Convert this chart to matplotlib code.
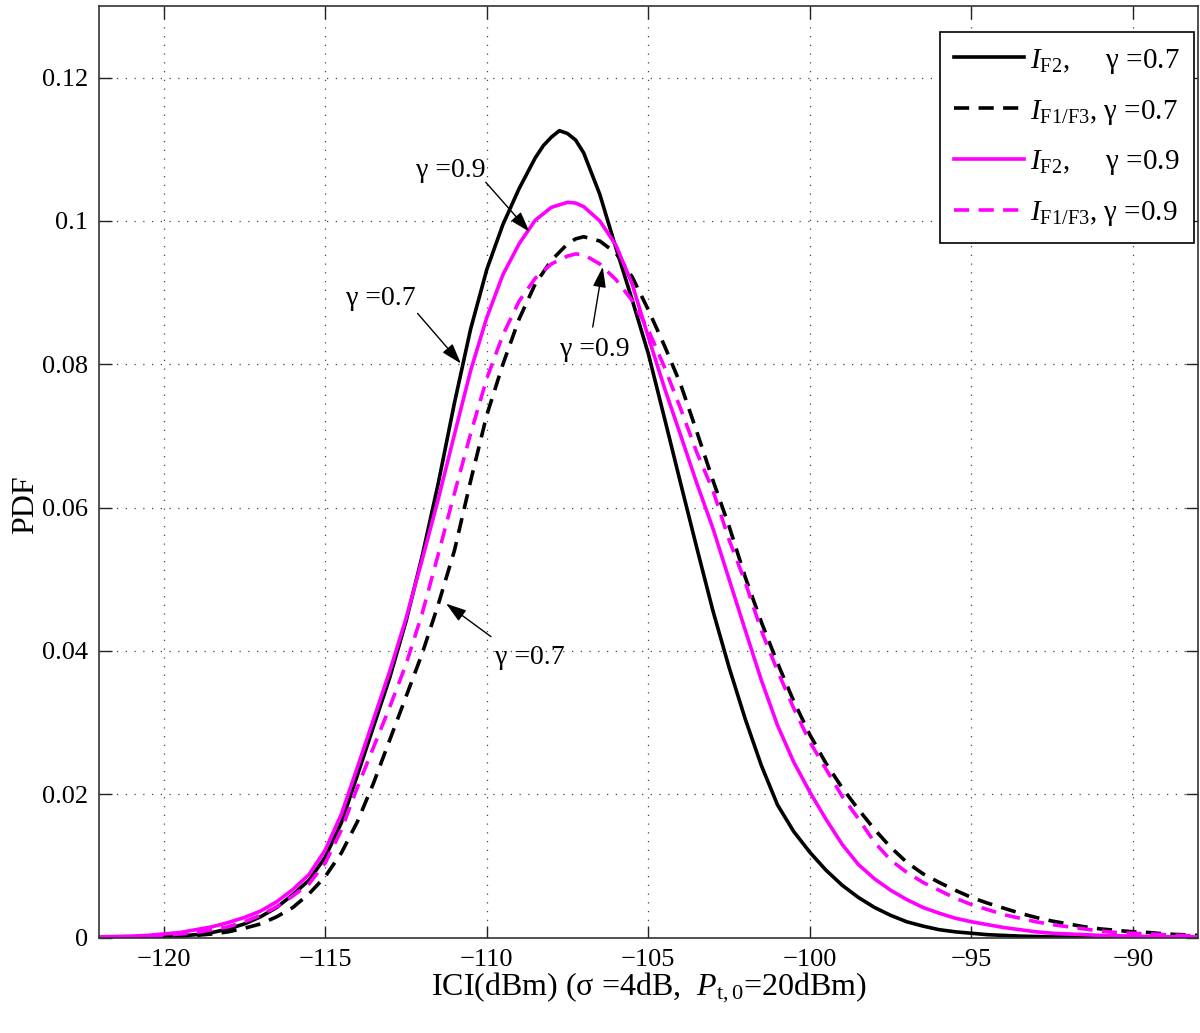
import matplotlib
matplotlib.use('Agg')
import matplotlib.pyplot as plt
import numpy as np

# ---------------- data (0.5 dB sampling) ----------------
x_db = np.arange(-122.0, -87.75, 0.5)   # -122 ... -88

y_f2_07 = [0, 0.00002, 0.00004, 0.00007, 0.00012, 0.00022, 0.0004, 0.0007, 0.0012, 0.0019,
           0.0029, 0.0042, 0.0060, 0.0080, 0.0112, 0.0160, 0.0227, 0.0295, 0.0363, 0.0441,
           0.0532, 0.0634, 0.0746, 0.0849, 0.0932, 0.0995, 0.1045, 0.1088, 0.1117, 0.1122,
           0.1095, 0.1037, 0.0962, 0.0890, 0.0815, 0.0725, 0.0634, 0.0544, 0.0456, 0.0377,
           0.0305, 0.0240, 0.0185, 0.0148, 0.0119, 0.0094, 0.0073, 0.0056, 0.0042, 0.0031,
           0.0022, 0.0016, 0.0011, 0.0008, 0.0006, 0.0004, 0.0003, 0.0002, 0.00015, 0.0001,
           0.00007, 0.00005, 0.00003, 0.00002, 0.00001, 0.00001, 0, 0, 0]

y_f13_07 = [0, 0.00002, 0.00004, 0.00007, 0.0001, 0.0002, 0.0003, 0.0005, 0.0008, 0.0013,
            0.0019, 0.0029, 0.0042, 0.0061, 0.0085, 0.0118, 0.0162, 0.0216, 0.0276, 0.0336,
            0.0396, 0.0465, 0.0540, 0.0637, 0.0729, 0.0800, 0.0863, 0.0912, 0.0945, 0.0968,
            0.0978, 0.0972, 0.0955, 0.0922, 0.0876, 0.0826, 0.0772, 0.0706, 0.0638, 0.0574,
            0.0503, 0.0440, 0.0383, 0.0330, 0.0283, 0.0243, 0.0209, 0.0179, 0.0151, 0.0126,
            0.0105, 0.0089, 0.0077, 0.0066, 0.0056, 0.0048, 0.0041, 0.0034, 0.0028, 0.0023,
            0.0019, 0.0015, 0.0012, 0.0010, 0.0008, 0.0007, 0.0005, 0.0004, 0.0003]

y_f2_09 = [0.0001, 0.00015, 0.0002, 0.0003, 0.0005, 0.0007, 0.0011, 0.0015, 0.0021, 0.0028,
           0.0037, 0.0050, 0.0067, 0.0088, 0.0122, 0.0172, 0.0238, 0.0305, 0.0372, 0.0445,
           0.0527, 0.0612, 0.0702, 0.0791, 0.0865, 0.0925, 0.0968, 0.1001, 0.1019, 0.1026,
           0.1020, 0.1000, 0.0966, 0.0912, 0.0838, 0.0767, 0.0701, 0.0634, 0.0571, 0.0500,
           0.0429, 0.0359, 0.0296, 0.0245, 0.0203, 0.0165, 0.0130, 0.0102, 0.0082, 0.0066,
           0.0053, 0.0042, 0.0034, 0.0027, 0.0022, 0.0018, 0.0014, 0.0011, 0.0008, 0.0006,
           0.0005, 0.0004, 0.0003, 0.00025, 0.0002, 0.00015, 0.0001, 0.0001, 0.0001]

y_f13_09 = [0.00003, 0.00006, 0.0001, 0.0002, 0.0003, 0.0005, 0.0007, 0.0011, 0.0015, 0.0022,
            0.0031, 0.0043, 0.0058, 0.0075, 0.0104, 0.0150, 0.0210, 0.0266, 0.0322, 0.0381,
            0.0452, 0.0535, 0.0620, 0.0703, 0.0780, 0.0841, 0.0888, 0.0920, 0.0940, 0.0951,
            0.0953, 0.0940, 0.0918, 0.0889, 0.0848, 0.0796, 0.0738, 0.0677, 0.0624, 0.0555,
            0.0496, 0.0428, 0.0372, 0.0320, 0.0273, 0.0235, 0.0197, 0.0166, 0.0133, 0.0108,
            0.0091, 0.0077, 0.0066, 0.0055, 0.0046, 0.0039, 0.0032, 0.0027, 0.0022, 0.0018,
            0.0015, 0.0012, 0.0009, 0.0007, 0.0006, 0.0005, 0.0004, 0.0003, 0.0002]

# extra readings around the peaks (x, y)
peak_f2_07 = ([-108.25, -107.75, -107.25], [0.1105, 0.1126, 0.1113])
peak_f13_07 = ([-107.25], [0.0975])
peak_f2_09 = ([-107.25], [0.1025])
peak_f13_09 = ([-107.25], [0.0954])

labels = [r'$I_{\mathrm{F2}}$,     γ =0.7',
          r'$I_{\mathrm{F1/F3}}$, γ =0.7',
          r'$I_{\mathrm{F2}}$,     γ =0.9',
          r'$I_{\mathrm{F1/F3}}$, γ =0.9']

x_ticks = [-120, -115, -110, -105, -100, -95, -90]
y_ticks = [0, 0.02, 0.04, 0.06, 0.08, 0.1, 0.12]
y_ticklabels = ['0', '0.02', '0.04', '0.06', '0.08', '0.1', '0.12']


def merged(y_grid, extra):
    xs = np.concatenate([x_db, np.asarray(extra[0], float)])
    ys = np.concatenate([np.asarray(y_grid, float), np.asarray(extra[1], float)])
    order = np.argsort(xs)
    return xs[order], ys[order]


# ---------------- style ----------------
plt.rcParams['font.family'] = ['Liberation Serif', 'DejaVu Serif']
plt.rcParams['mathtext.fontset'] = 'custom'
plt.rcParams['mathtext.rm'] = 'Liberation Serif'
plt.rcParams['mathtext.it'] = 'Liberation Serif:italic'
plt.rcParams['axes.unicode_minus'] = True

MAG = '#FF00FF'
LW = 2.6
DASH = (0, (4.2, 2.6))

fig = plt.figure(figsize=(12, 10.33), dpi=100)
ax = fig.add_axes([0.0825, 0.0924, 0.9155, 0.9018])

kw = dict(lw=LW, solid_joinstyle='round', dash_joinstyle='round')
ax.plot(*merged(y_f2_07, peak_f2_07), color='black', label=labels[0], **kw)
ax.plot(*merged(y_f13_07, peak_f13_07), color='black', linestyle=DASH, label=labels[1], **kw)
ax.plot(*merged(y_f2_09, peak_f2_09), color=MAG, label=labels[2], **kw)
ax.plot(*merged(y_f13_09, peak_f13_09), color=MAG, linestyle=DASH, label=labels[3], **kw)

ax.set_xlim(-122, -88)
ax.set_ylim(0, 0.13)
ax.set_xticks(x_ticks)
ax.set_yticks(y_ticks)
ax.set_yticklabels(y_ticklabels)
ax.tick_params(direction='in', length=9, width=1.0, top=True, right=True,
               labelsize=19, pad=8, colors='#222222', labelcolor='black')
ax.grid(True, linestyle=(0, (1, 6)), color='#444444', lw=0.9)
for s in ax.spines.values():
    s.set_color('#333333')
    s.set_linewidth(1.2)

ax.set_xlabel(r'ICI(dBm) (σ =4dB,  $P_{\mathrm{t,0}}$=20dBm)', fontsize=23, labelpad=0)
ax.set_ylabel('PDF', fontsize=23)
ax.yaxis.set_label_coords(-0.054, 0.465)

leg = ax.legend(loc='upper right', bbox_to_anchor=(0.997, 0.972), borderaxespad=0,
                fontsize=21, handlelength=2.4, handletextpad=0.2, labelspacing=0.75,
                borderpad=0.5, fancybox=False, framealpha=1, edgecolor='black')
leg.get_frame().set_linewidth(1.2)

arrow = dict(arrowstyle='-|>,head_length=1.25,head_width=0.4', color='black', lw=1.0,
             shrinkA=0, shrinkB=0)
TXT = 20
ax.text(-111.1, 0.1071, 'γ =0.9', fontsize=TXT, ha='center', va='center')
ax.annotate('', xy=(-108.68, 0.0985), xytext=(-110.03, 0.1054), arrowprops=arrow)
ax.text(-113.28, 0.0892, 'γ =0.7', fontsize=TXT, ha='center', va='center')
ax.annotate('', xy=(-110.8, 0.0801), xytext=(-112.14, 0.0871), arrowprops=arrow)
ax.text(-106.66, 0.0821, 'γ =0.9', fontsize=TXT, ha='center', va='center')
ax.annotate('', xy=(-106.41, 0.0936), xytext=(-106.72, 0.0852), arrowprops=arrow)
ax.text(-108.67, 0.0391, 'γ =0.7', fontsize=TXT, ha='center', va='center')
ax.annotate('', xy=(-111.26, 0.0466), xytext=(-109.87, 0.0420), arrowprops=arrow)

fig.savefig('out.png', dpi=100, facecolor='white')
